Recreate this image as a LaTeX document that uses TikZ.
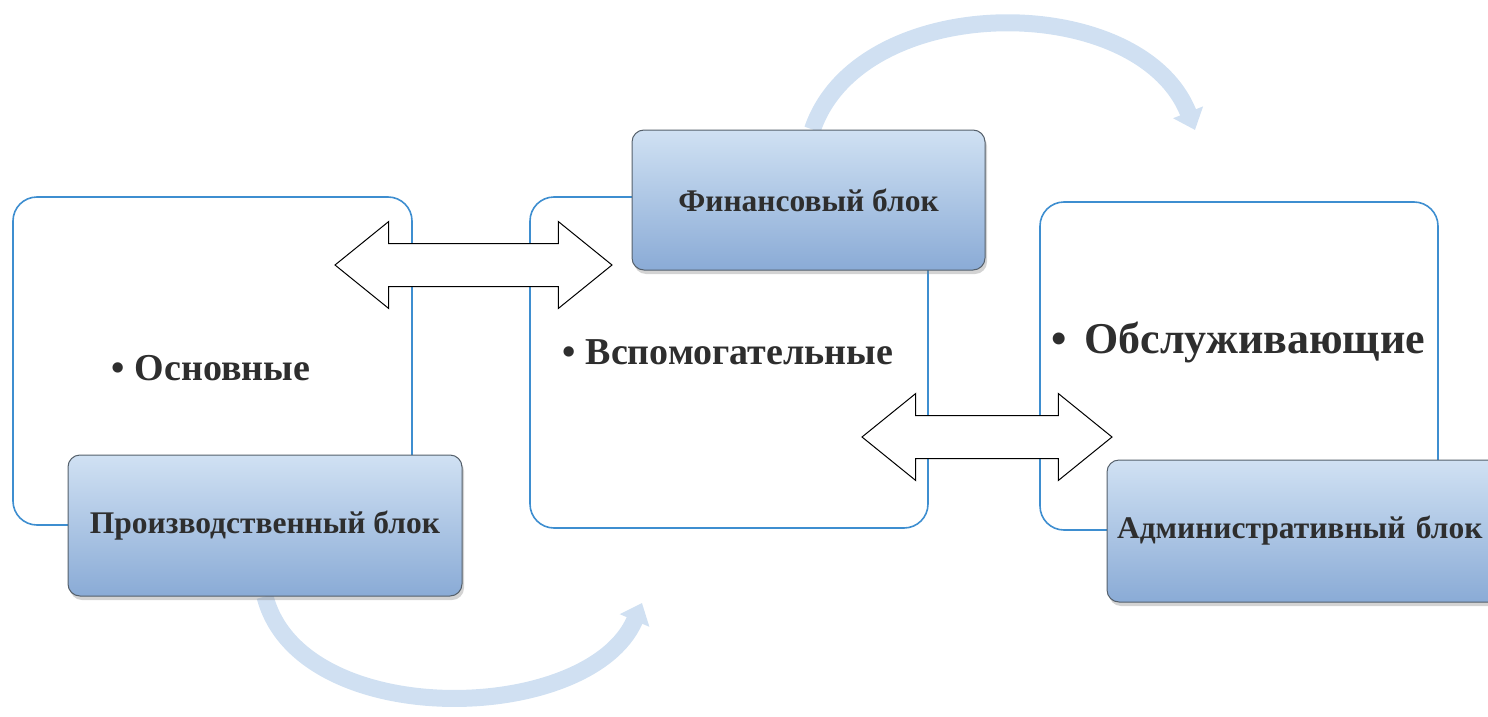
\documentclass[tikz,border=0pt]{standalone}
\usepackage{fontspec}
\setmainfont{Liberation Serif}
\usetikzlibrary{arrows.meta,shapes.arrows,shadows,backgrounds}
\definecolor{boxline}{HTML}{3E8ED0}
\definecolor{blocktop}{HTML}{D0E1F3}
\definecolor{blockbot}{HTML}{8AABD6}
\definecolor{blockline}{HTML}{55606B}
\definecolor{turnblue}{HTML}{D0E0F2}
\definecolor{textgray}{HTML}{2E2E2E}

\begin{document}
\begin{tikzpicture}[x=1pt,y=-1pt,
  outline/.style={draw=boxline,line width=1.6pt,rounded corners=24pt,inner sep=0pt},
  blockbox/.style={draw=blockline,line width=1pt,rounded corners=12pt,inner sep=0pt,
    top color=blocktop,bottom color=blockbot,
    drop shadow={opacity=0.35,shadow xshift=2pt,shadow yshift=-4pt},
    font=\bfseries\fontsize{31.5}{37}\selectfont,text=textgray},
  dblarrow/.style={double arrow,draw=black,fill=white,line width=1pt,inner xsep=0pt,inner ysep=21pt,
    double arrow head extend=22pt,double arrow tip angle=78},
  bigtext/.style={font=\bfseries\fontsize{38}{44}\selectfont,text=textgray},
  turnarrow/.style={line width=17pt,turnblue,-{Triangle[width=31pt,length=19pt]}}]
\useasboundingbox (0,0) rectangle (1488,717);
\node[outline,minimum width=399pt,minimum height=328pt] (osnbox) at (212.5,361) {};
\node[outline,minimum width=398pt,minimum height=331pt] (vspbox) at (729,362.5) {};
\node[outline,minimum width=398pt,minimum height=328pt] (obsbox) at (1239,366) {};
\node[bigtext] (osn) at (211,368) {•\ Основные};
\node[bigtext] (vsp) at (728,352) {•\ Вспомогательные};
\node[bigtext,font=\bfseries\fontsize{44}{50}\selectfont] (obs) at (1238,342) {•\hspace{18pt}Обслуживающие};
\node[dblarrow,minimum height=277pt] (swapA) at (473.5,265) {};
\node[dblarrow,minimum height=250pt] (swapB) at (987,437) {};
\node[blockbox,minimum width=394pt,minimum height=141pt] (proizv) at (265,525.5) {Производственный блок};
\node[blockbox,minimum width=353pt,minimum height=140pt] (fin) at (808.5,200) {Финансовый блок};
\node[blockbox,minimum width=393pt,minimum height=142pt,text width=373pt,align=left] (admin) at (1303.5,531) {Административный блок};
\coordinate (topend) at (1195,130);
\coordinate (botend) at (642,603);
\begin{scope}[on background layer]
\draw[turnarrow] ([xshift=4pt]fin.north) .. controls (860,-10) and (1140,-10) .. (topend);
\draw[turnarrow] (proizv.south) .. controls (300,732) and (590,725) .. (botend);
\end{scope}
\end{tikzpicture}
\end{document}
